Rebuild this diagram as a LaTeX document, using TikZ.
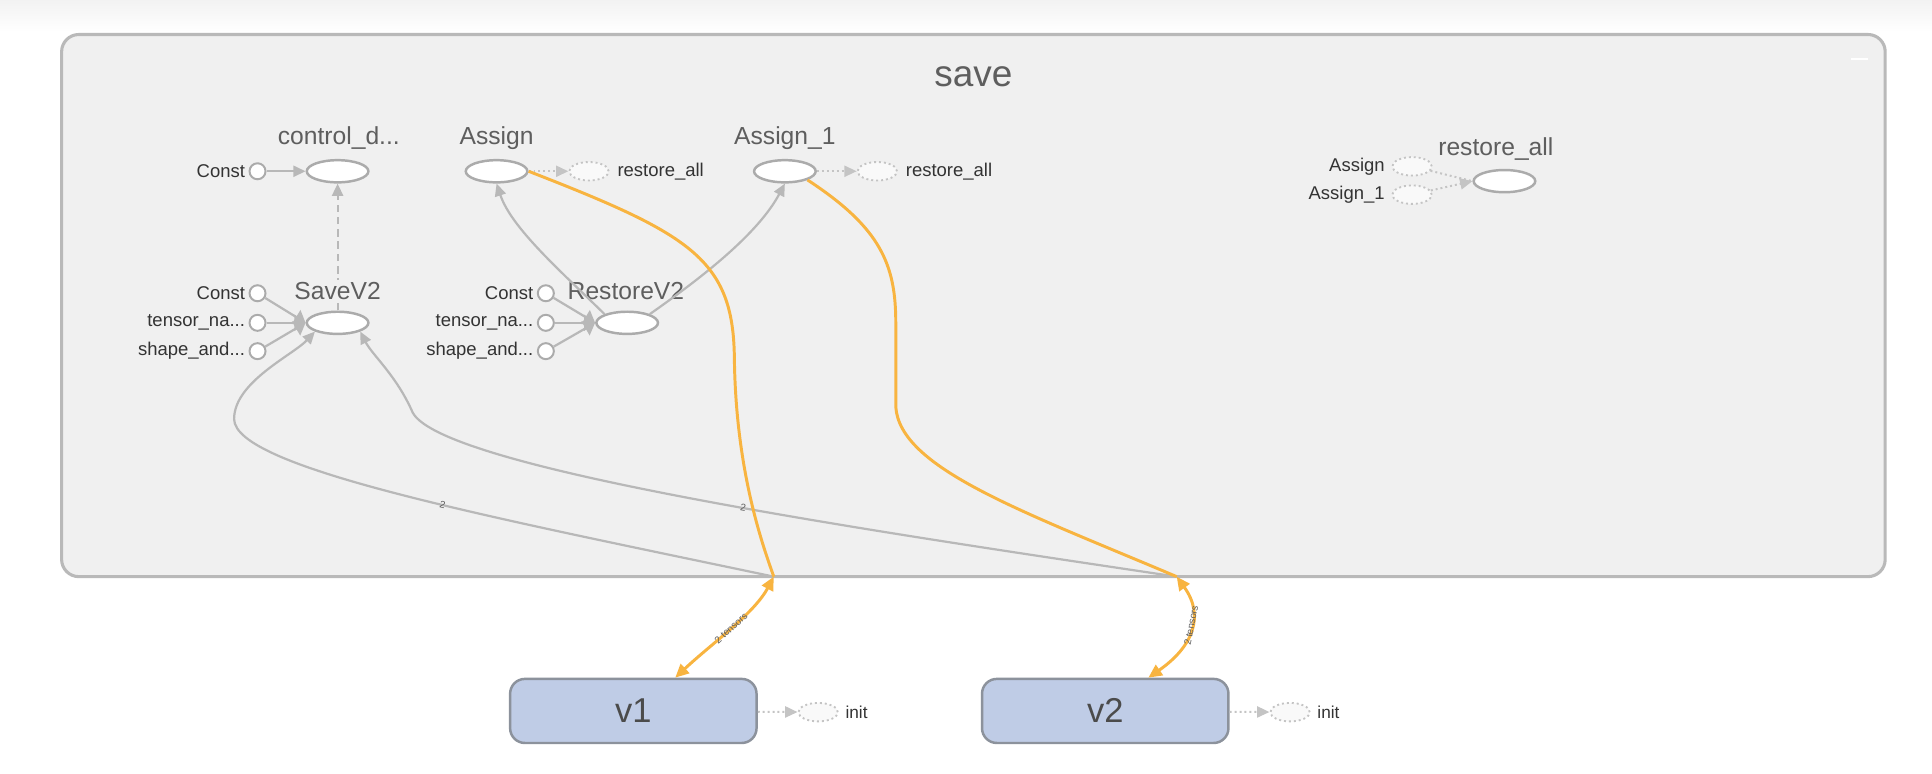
\documentclass[tikz,border=0pt]{standalone}
\usepackage{fontspec}
\setmainfont{Liberation Sans}
\usetikzlibrary{shapes.geometric,arrows.meta}
\definecolor{boxfill}{HTML}{F0F0F0}
\definecolor{boxline}{HTML}{B9B9B9}
\definecolor{opgray}{HTML}{ABABAB}
\definecolor{ghostgray}{HTML}{C4C4C4}
\definecolor{edgegray}{HTML}{B8B8B8}
\definecolor{titlegray}{HTML}{5E5E5E}
\definecolor{lblgray}{HTML}{333333}
\definecolor{refor}{HTML}{F8B440}
\definecolor{varfill}{HTML}{BFCCE6}
\definecolor{varline}{HTML}{8C929C}
\begin{document}
\begin{tikzpicture}[x=1pt,y=-1pt,
  op/.style={ellipse, draw=opgray, line width=2pt, fill=white, minimum width=50pt, minimum height=18pt, inner sep=0pt},
  ghost/.style={ellipse, draw=ghostgray, dash pattern=on 1.6pt off 2.4pt, line width=1.5pt, fill=white!60!boxfill, minimum width=32pt, minimum height=15pt, inner sep=0pt},
  inp/.style={circle, draw=opgray, line width=1.6pt, fill=white, minimum size=13pt, inner sep=0pt},
  ttl/.style={text=titlegray, font=\fontsize{20}{22}\selectfont, inner sep=1pt},
  lbl/.style={text=lblgray, font=\fontsize{15}{17}\selectfont, inner sep=0pt},
  gedge/.style={draw=edgegray, line width=1.8pt},
  gtip/.style={-{Triangle[length=10pt,width=9pt]}},
  intip/.style={-{Triangle[length=9pt,width=13pt]}},
  dotedge/.style={draw=ghostgray, line width=1.6pt, dash pattern=on 1.6pt off 2.4pt},
  redge/.style={draw=refor, line width=2.4pt},
  btip/.style={{Triangle[length=11pt,width=10pt]}-{Triangle[length=11pt,width=10pt]}},
  varbox/.style={draw=varline, fill=varfill, line width=2pt, rounded corners=12pt, minimum width=200pt, minimum height=52pt, inner sep=0pt, text=titlegray!80!black, font=\fontsize{28}{30}\selectfont},
  elbl/.style={text=titlegray, font=\fontsize{8}{9}\selectfont, inner sep=0.5pt}
]
\useasboundingbox (0,0) rectangle (1568,628);
\fill[white] (0,0) rectangle (1568,628);
\shade[top color=black!5, bottom color=white] (0,0) rectangle (1568,26);

% outer box
\node[draw=boxline, fill=boxfill, line width=2.5pt, rounded corners=14pt, minimum width=1480pt, minimum height=440pt, inner sep=0pt] (savebox) at (790,248) {};
\draw[white, line width=2pt] (1502,48) -- (1516,48);
\node[text=titlegray, font=\fontsize{30}{32}\selectfont] (savettl) at (790,62) {save};

% top row
\node[op] (ctrl) at (274,139) {};
\node[ttl] (ctrlt) at (275,112) {control\_d...};
\node[inp] (c0) at (209,139) {};
\node[lbl, anchor=east] (c0l) at (199,139) {Const};

\node[op] (asg) at (403,139) {};
\node[ttl] (asgt) at (403,112) {Assign};
\node[ghost] (asgg) at (478,139) {};
\node[lbl, anchor=west] (asgl) at (501,139) {restore\_all};

\node[op] (asg1) at (637,139) {};
\node[ttl] (asg1t) at (637,112) {Assign\_1};
\node[ghost] (asg1g) at (712,139) {};
\node[lbl, anchor=west] (asg1l) at (735,139) {restore\_all};

\node[op] (rall) at (1221,147) {};
\node[ttl] (rallt) at (1214,121) {restore\_all};
\node[ghost] (rg1) at (1146,135) {};
\node[ghost] (rg2) at (1146,158) {};
\node[lbl, anchor=east] (rg1l) at (1124,135) {Assign};
\node[lbl, anchor=east] (rg2l) at (1124,158) {Assign\_1};

% SaveV2
\node[op] (sv) at (274,262) {};
\node[inp] (s1) at (209,238) {};
\node[inp] (s2) at (209,262) {};
\node[inp] (s3) at (209,285) {};
\node[lbl, anchor=east] (s1l) at (199,238) {Const};
\node[lbl, anchor=east] (s2l) at (199,262) {tensor\_na...};
\node[lbl, anchor=east] (s3l) at (199,285) {shape\_and...};

% RestoreV2
\node[op] (rv) at (509,262) {};
\node[inp] (r1) at (443,238) {};
\node[inp] (r2) at (443,262) {};
\node[inp] (r3) at (443,285) {};
\node[lbl, anchor=east] (r1l) at (433,238) {Const};
\node[lbl, anchor=east] (r2l) at (433,262) {tensor\_na...};
\node[lbl, anchor=east] (r3l) at (433,285) {shape\_and...};

% variables
\node[varbox] (v1) at (514,577) {v1};
\node[varbox] (v2) at (897,577) {v2};
\node[ghost] (v1g) at (664,578) {};
\node[lbl, anchor=west, font=\fontsize{14}{16}\selectfont] (v1l) at (686,578) {init};
\node[ghost] (v2g) at (1047,578) {};
\node[lbl, anchor=west, font=\fontsize{14}{16}\selectfont] (v2l) at (1069,578) {init};

\coordinate (P1) at (628,468);
\coordinate (P2) at (955,468);

% control edges
\draw[gedge, gtip] (c0) -- (ctrl);
\draw[gedge, gtip, dashed, dash pattern=on 6pt off 4pt] (sv.north) -- (ctrl.south);
\node[ttl, fill=boxfill, inner sep=2pt] (svt) at (274,236) {SaveV2};
\node[ttl] (rvt) at (508,236) {RestoreV2};

\foreach \n in {s1,s2,s3} \draw[gedge, intip] (\n) -- (sv.west);
\foreach \n in {r1,r2,r3} \draw[gedge, intip] (\n) -- (rv.west);

\draw[dotedge, gtip] (asg) -- (asgg);
\draw[dotedge, gtip] (asg1) -- (asg1g);
\draw[dotedge] (rg1) -- (rall.west);
\draw[dotedge, gtip] (rg2) -- (rall.west);
\draw[dotedge, gtip] (v1) -- (v1g);
\draw[dotedge, gtip] (v2) -- (v2g);

% RestoreV2 to Assign / Assign_1
\draw[gedge, gtip] (rv.north west) .. controls (455,220) and (415,185) .. (asg.south);
\draw[gedge, gtip] (rv.north east) .. controls (570,225) and (615,190) .. (asg1.south);

% variable reads into SaveV2
\draw[gedge, gtip] (P1) .. controls (400,420) and (190,380) .. (190,340)
  node[elbl, pos=0.43, sloped] {2}
  .. controls (190,310) and (238,288) .. (sv.south west);
\draw[gedge, gtip] (P2) .. controls (700,430) and (360,380) .. (335,335)
  node[elbl, pos=0.44, sloped] {2}
  .. controls (322,305) and (302,288) .. (sv.south east);

% reference edges
\draw[redge] (asg.east) .. controls (560,190) and (595,210) .. (596,290)
  .. controls (597,380) and (618,440) .. (P1);
\draw[redge] (asg1.south east) .. controls (715,185) and (727,215) .. (727,262)
  -- (727,330) .. controls (730,380) and (830,415) .. (P2);
\draw[redge, btip] (P1) .. controls (612,498) and (578,522) .. ([xshift=34pt]v1.north)
  node[elbl, pos=0.5, sloped] {2 tensors};
\draw[redge, btip] (P2) .. controls (978,500) and (968,525) .. ([xshift=35pt]v2.north)
  node[elbl, pos=0.45, sloped] {2 tensors};
\end{tikzpicture}
\end{document}
